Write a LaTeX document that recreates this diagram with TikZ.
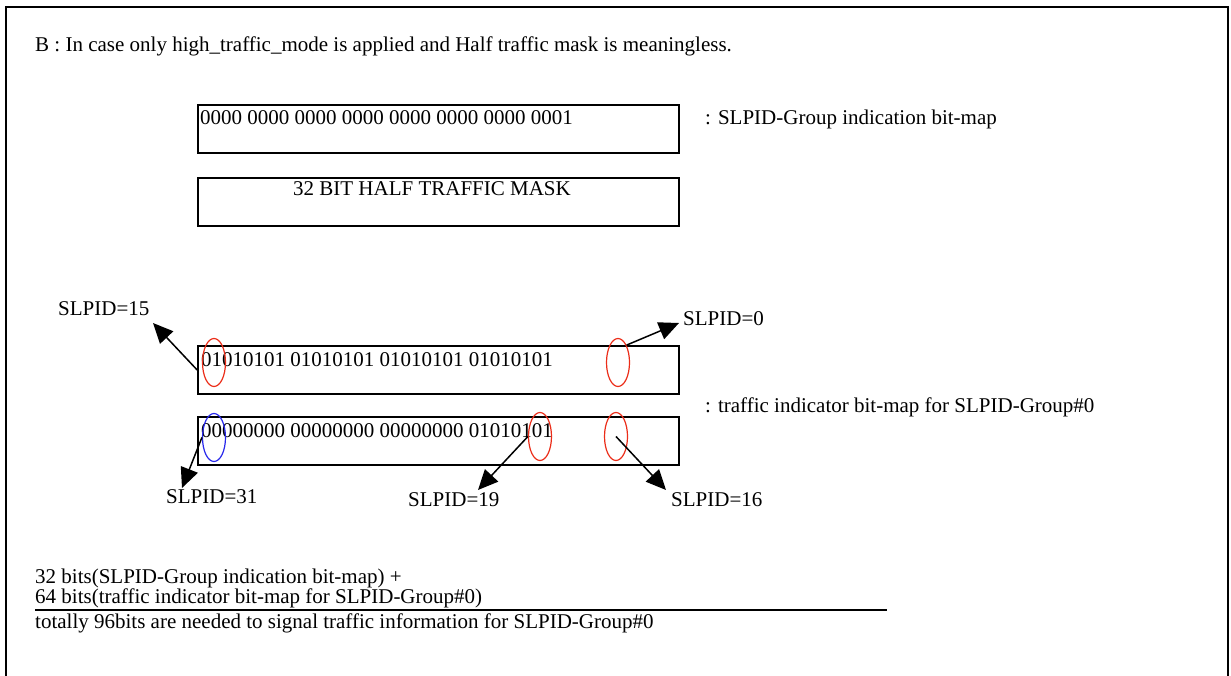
\documentclass[tikz,border=0pt]{standalone}
\usepackage{fontspec}
\setmainfont{Liberation Serif}
\usetikzlibrary{arrows.meta,shapes.geometric}
\definecolor{ovalred}{RGB}{235,45,25}
\definecolor{ovalblue}{RGB}{40,40,235}
\tikzset{
  bitbox/.style={draw,line width=1.6pt,minimum width=481pt,minimum height=48pt,inner sep=0pt},
  txt/.style={anchor=base west,inner sep=0pt,font=\fontsize{21}{22}\selectfont},
  oval/.style={ellipse,draw,line width=1.2pt,minimum width=23pt,minimum height=48pt,inner sep=0pt},
  ptr/.style={line width=1.5pt,-{Triangle[length=20pt,width=18pt]}}
}
\begin{document}
\begin{tikzpicture}[x=1pt,y=-1pt]
\useasboundingbox (0,0) rectangle (1231,676);
\draw[line width=1.5pt] (6,676) -- (6,7) -- (1228,7) -- (1228,676);

\node[txt] (title) at (35,52) {B : In case only high\_traffic\_mode is applied and Half traffic mask is meaningless.};

% group bit-map and mask
\node[bitbox] (grpbox) at (438.5,129) {};
\node[txt] (grpbits) at (200,125) {0000 0000 0000 0000 0000 0000 0000 0001};
\node[txt] (grplabel) at (705,125) {: SLPID-Group indication bit-map};
\node[bitbox] (maskbox) at (438.5,202) {};
\node[txt,anchor=base] (masktext) at (432,196) {32 BIT HALF TRAFFIC MASK};

% traffic indicator bit-map
\node[bitbox] (lowbox) at (438.5,370) {};
\node[txt] (lowbits) at (201,366) {01010101 01010101 01010101 01010101};
\node[bitbox] (highbox) at (438.5,441) {};
\node[txt] (highbits) at (201,437) {00000000 00000000 00000000 01010101};
\node[txt] (tilabel) at (705,412) {: traffic indicator bit-map for SLPID-Group\#0};

\node[oval,ovalred] (o15) at (214,362.5) {};
\node[oval,ovalred] (o0) at (618,362.5) {};
\node[oval,ovalblue] (o31) at (214,437.5) {};
\node[oval,ovalred] (o19) at (540,436.5) {};
\node[oval,ovalred] (o16) at (616,436.5) {};

\node[txt] (s15) at (58,315) {SLPID=15};
\node[txt] (s0) at (683,325) {SLPID=0};
\node[txt] (s31) at (166,503) {SLPID=31};
\node[txt] (s19) at (408,506) {SLPID=19};
\node[txt] (s16) at (671,506) {SLPID=16};

\coordinate (p15) at (153,323);
\coordinate (p0) at (679,323);
\coordinate (p31) at (182,488);
\coordinate (p19) at (478,490);
\coordinate (p16) at (666,490);

\draw[ptr] (lowbox.west) -- (p15);
\draw[ptr] (o0.north east) -- (p0);
\draw[ptr] (o31.west) -- (p31);
\draw[ptr] (o19.west) -- (p19);
\draw[ptr] (o16.center) -- (p16);

% sum
\node[txt] (sum1) at (35,583) {32 bits(SLPID-Group indication bit-map) +};
\node[txt] (sum2) at (35,603) {64 bits(traffic indicator bit-map for SLPID-Group\#0)};
\node[txt] (total) at (35,628) {totally 96bits are needed to signal traffic information for SLPID-Group\#0};
\coordinate (ruleend) at (887,610);
\draw[line width=1.5pt] (sum2.west |- ruleend) -- (ruleend);
\end{tikzpicture}
\end{document}
